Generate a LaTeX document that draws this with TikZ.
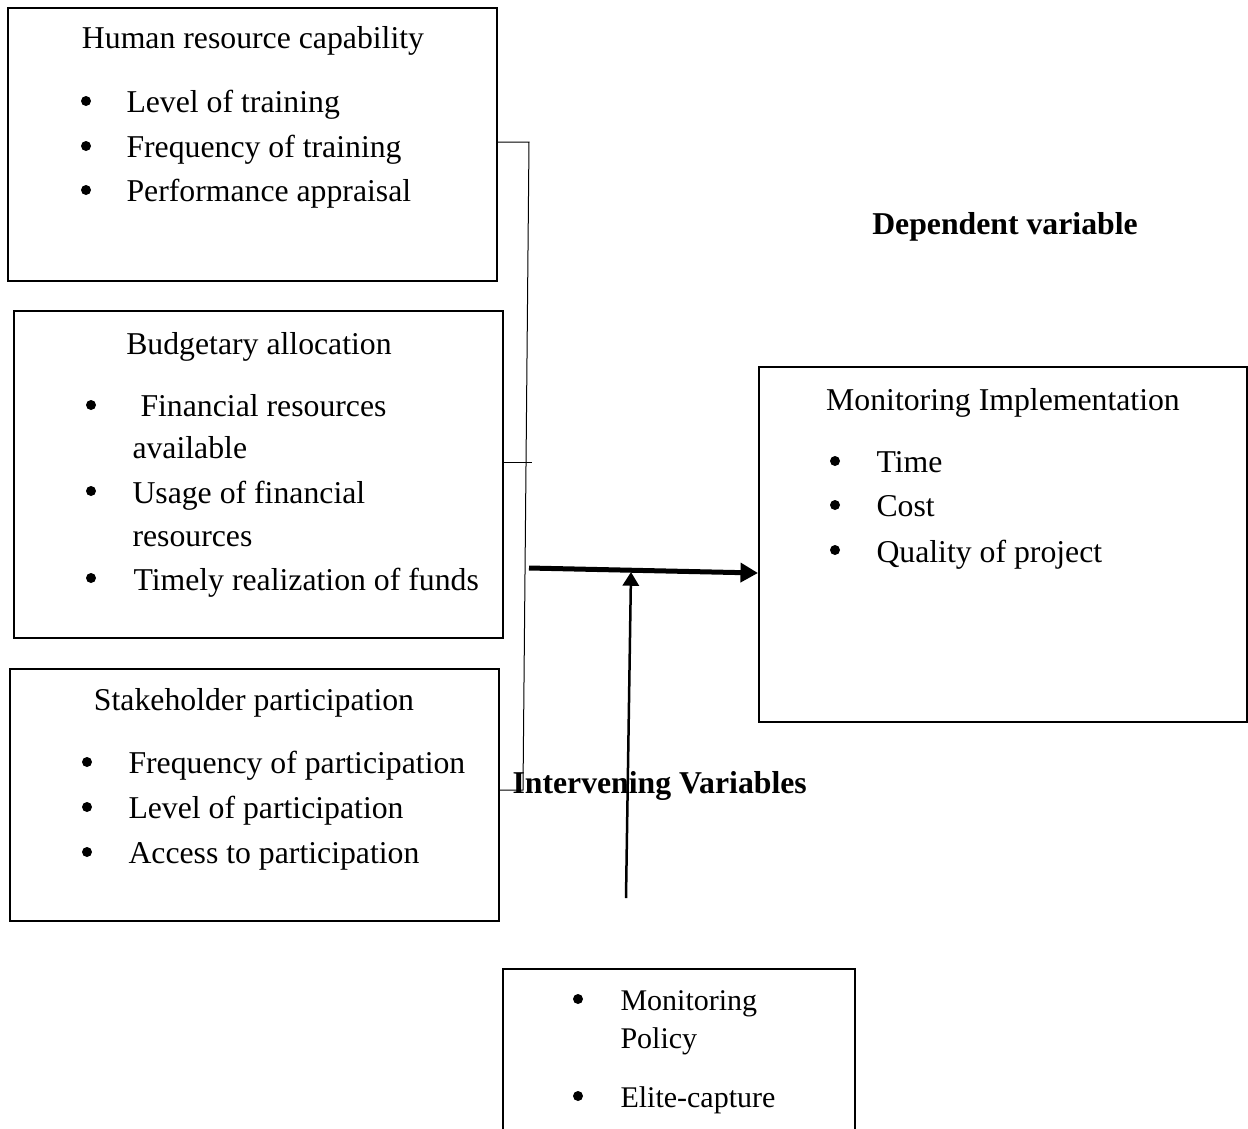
\documentclass[tikz,border=0pt]{standalone}
\usepackage{fontspec}
\setmainfont{Liberation Serif}
\usetikzlibrary{arrows.meta,positioning}

\begin{document}
\begin{tikzpicture}[x=0.4pt, y=-0.4pt,
  box/.style={rectangle, draw, line width=0.8pt, minimum width=195.6pt, inner sep=0pt},
  txt/.style={anchor=base west, inner sep=0pt, font=\fontsize{12.7}{15}\selectfont},
  ttl/.style={anchor=base, inner sep=0pt, font=\fontsize{12.7}{15}\selectfont},
  small/.style={anchor=base west, inner sep=0pt, font=\fontsize{12}{14}\selectfont},
  dot/.style={circle, fill, inner sep=0pt, minimum size=4pt},
  head/.style={anchor=base, inner sep=0pt, font=\fontsize{12.7}{15}\selectfont\bfseries},
  link/.style={line width=0.4pt},
  arr/.style={-{Triangle[length=7pt, width=7.5pt]}, line width=2pt},
  uparr/.style={-{Triangle[length=5.5pt, width=6.5pt]}, line width=1pt}
]
  \useasboundingbox (0,0) rectangle (1248,1128);
  \clip (0,0) rectangle (1248,1128);

  % boxes
  \node[box, minimum height=109.2pt] (hr) at (252.5,144.5) {};
  \node[box, minimum height=130.8pt] (budget) at (258.5,474.5) {};
  \node[box, minimum height=100.8pt] (stake) at (254.5,795) {};
  \node[box, minimum width=195.2pt, minimum height=142pt] (monitor) at (1003,544.5) {};
  \node[box, minimum width=140.8pt, minimum height=68.4pt] (interv) at (679,1054.5) {};

  % human resource capability
  \node[ttl] (hrttl) at (253,48) {Human resource capability};
  \node[dot] (hrd1) at (86,101) {};
  \node[txt] (hrt1) at (126,112) {Level of training};
  \node[dot] (hrd2) at (86,146) {};
  \node[txt] (hrt2) at (126,157) {Frequency of training};
  \node[dot] (hrd3) at (86,190) {};
  \node[txt] (hrt3) at (126,201) {Performance appraisal};

  % budgetary allocation
  \node[ttl] (bgttl) at (259,354) {Budgetary allocation};
  \node[dot] (bgd1) at (91,405) {};
  \node[txt] (bgt1) at (140,416) {Financial resources};
  \node[txt] (bgt1b) at (132,458) {available};
  \node[dot] (bgd2) at (91,491) {};
  \node[txt] (bgt2) at (132,503) {Usage of financial};
  \node[txt] (bgt2b) at (132,546) {resources};
  \node[dot] (bgd3) at (91,578) {};
  \node[txt] (bgt3) at (133,590) {Timely realization of funds};

  % stakeholder participation
  \node[ttl] (skttl) at (254,710) {Stakeholder participation};
  \node[dot] (skd1) at (87,762) {};
  \node[txt] (skt1) at (128,773) {Frequency of participation};
  \node[dot] (skd2) at (87,807) {};
  \node[txt] (skt2) at (128,818) {Level of participation};
  \node[dot] (skd3) at (87,852) {};
  \node[txt] (skt3) at (128,863) {Access to participation};

  % monitoring implementation
  \node[ttl] (mnttl) at (1003,410) {Monitoring Implementation};
  \node[dot] (mnd1) at (835,461) {};
  \node[txt] (mnt1) at (876,472) {Time};
  \node[dot] (mnd2) at (835,505) {};
  \node[txt] (mnt2) at (876,516) {Cost};
  \node[dot] (mnd3) at (835,550) {};
  \node[txt] (mnt3) at (876,562) {Quality of project};

  % intervening variables
  \node[dot] (ivd1) at (578,999) {};
  \node[small] (ivt1) at (620,1010) {Monitoring};
  \node[small] (ivt1b) at (620,1048) {Policy};
  \node[dot] (ivd2) at (578,1096) {};
  \node[small] (ivt2) at (620,1107) {Elite-capture};

  % headings
  \node[head] (dep) at (1005,234) {Dependent variable};
  \node[head, anchor=base west] (ivhd) at (512,793) {Intervening Variables};

  % connectors
  \coordinate (brtop) at (529,142);
  \coordinate (brbot) at (523,790);
  \coordinate (tick) at (532,462);
  \coordinate (join) at (529,568);
  \coordinate (ivtail) at (626,898);
  \coordinate (ivhead) at (631,572);

  \draw[link] (hr.east |- brtop) -- (brtop) -- (brbot) -- (stake.east |- brbot);
  \draw[link] (budget.east |- tick) -- (tick);
  \draw[arr] (join) -- (monitor.west |- 0,573);
  \draw[uparr] (ivtail) -- (ivhead);
\end{tikzpicture}
\end{document}
